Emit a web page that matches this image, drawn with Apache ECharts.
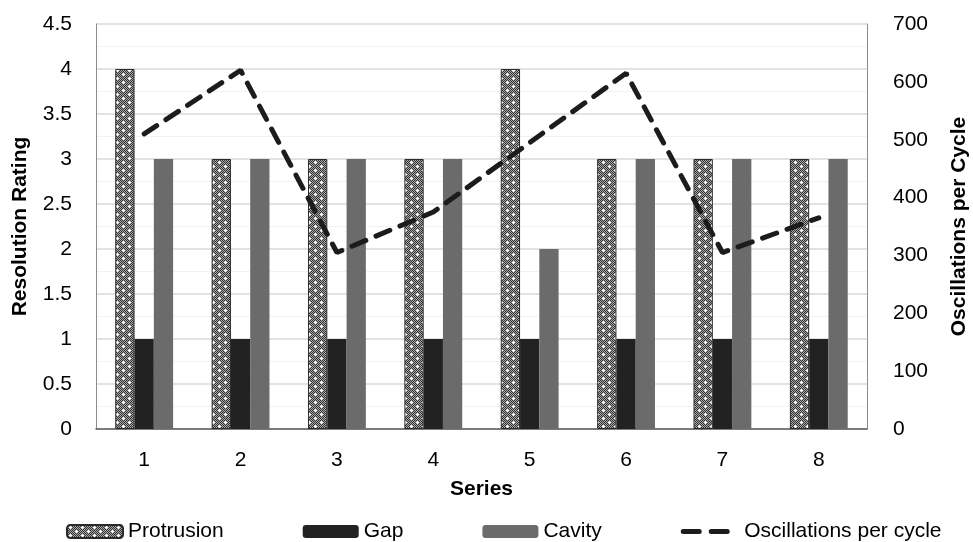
<!DOCTYPE html>
<html>
<head>
<meta charset="utf-8">
<script src="https://cdn.jsdelivr.net/npm/echarts@6/dist/echarts.min.js"></script>
<style>html,body{margin:0;padding:0;background:#fff}#c{width:973px;height:542px}</style>
</head>
<body>
<div id="c"></div>
<script>
var categories = ['1','2','3','4','5','6','7','8'];
var protrusion = [4,3,3,3,4,3,3,3];
var gap = [1,1,1,1,1,1,1,1];
var cavity = [3,3,3,3,2,3,3,3];
var oscillations = [510,620,305,375,495,615,305,365];

function makePattern(){
  var c = document.createElement('canvas');
  c.width = 12; c.height = 8;
  var g = c.getContext('2d');
  for (var y=0;y<8;y++) for (var x=0;x<12;x++){
    g.fillStyle = ((x+y)%2===0) ? '#333333' : '#a8a8a8';
    g.fillRect(x,y,1,1);
  }
  g.fillStyle = '#ffffff';
  [[3,2],[9,6]].forEach(function(p){
    g.fillRect(p[0]-1,p[1],3,1);
    g.fillRect(p[0],p[1]-1,1,3);
  });
  return c;
}
var pat = {image: makePattern(), repeat: 'repeat'};
var FONT = 'Liberation Sans';
var chart = echarts.init(document.getElementById('c'), null, {renderer:'canvas'});
chart.setOption({
  animation:false,
  textStyle:{fontFamily:FONT},
  grid:{left:96,right:106,top:24,bottom:113,containLabel:false,outerBoundsMode:'none'},
  legend:{
    left:61, top:516, itemWidth:56, itemHeight:13, itemGap:79,
    textStyle:{fontFamily:FONT,fontSize:21,color:'#000'},
    data:['Protrusion','Gap','Cavity',{name:'Oscillations per cycle',itemStyle:{opacity:0},lineStyle:{width:5,type:[16,12],cap:'round'}}]
  },
  xAxis:{
    type:'category', data:categories,
    name:'Series', nameLocation:'middle', nameGap:50,
    nameTextStyle:{fontFamily:FONT,fontSize:21,fontWeight:'bold',color:'#000'},
    axisLine:{lineStyle:{color:'#595959',width:1.5}},
    axisTick:{show:false},
    axisLabel:{fontSize:21,color:'#000',margin:21}
  },
  yAxis:[{
    type:'value', min:0, max:4.5, interval:0.5,
    name:'Resolution Rating', nameLocation:'middle', nameGap:65, nameRotate:90,
    nameTextStyle:{fontFamily:FONT,fontSize:21,fontWeight:'bold',color:'#000'},
    axisLine:{show:true,lineStyle:{color:'#8c8c8c'}},
    axisTick:{show:false},
    axisLabel:{fontSize:21,color:'#000',margin:24},
    splitLine:{lineStyle:{color:'#d9d9d9',width:1.5}},
    minorTick:{show:false,splitNumber:2},
    minorSplitLine:{show:true,lineStyle:{color:'#f2f2f2'}}
  },{
    type:'value', min:0, max:700, interval:100,
    name:'Oscillations per Cycle', nameLocation:'middle', nameGap:82, nameRotate:90,
    nameTextStyle:{fontFamily:FONT,fontSize:21,fontWeight:'bold',color:'#000'},
    axisLine:{show:true,lineStyle:{color:'#8c8c8c'}},
    axisTick:{show:false},
    axisLabel:{fontSize:21,color:'#000',margin:26},
    splitLine:{show:false}
  }],
  series:[{
    name:'Protrusion', type:'bar', data:protrusion, barGap:'0%', barCategoryGap:'40%',
    itemStyle:{color:pat,borderColor:'#2a2a2a',borderWidth:1}
  },{
    name:'Gap', type:'bar', data:gap,
    itemStyle:{color:'#222222'}
  },{
    name:'Cavity', type:'bar', data:cavity,
    itemStyle:{color:'#6b6b6b'}
  },{
    name:'Oscillations per cycle', type:'line', yAxisIndex:1, data:oscillations,
    symbol:'none', z:5,
    lineStyle:{color:'#1c1c1c',width:5,type:[15,11],cap:'round'},
    itemStyle:{color:'#1c1c1c'}
  }]
});
</script>
</body>
</html>
